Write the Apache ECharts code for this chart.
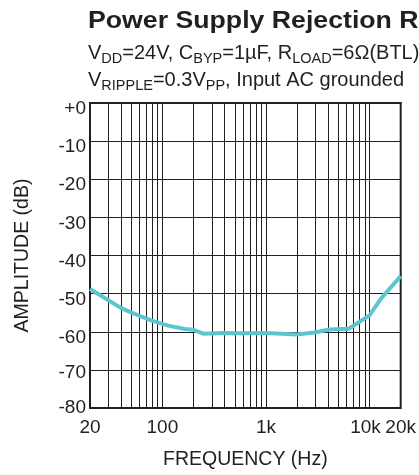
<!DOCTYPE html>
<html>
<head>
<meta charset="utf-8">
<script src="https://cdn.jsdelivr.net/npm/echarts@6/dist/echarts.min.js"></script>
<style>html,body{margin:0;padding:0;background:#fff}#c{width:419px;height:475px}</style>
</head>
<body>
<div id="c"></div>
<script>
// Data
var freqHz = [20, 28, 40, 54, 79, 114, 165, 200, 247, 386, 560, 1000, 1970, 2950, 4100, 6300, 10000, 13000, 20000];
var psrrDb = [-48.8, -51.2, -53.8, -55.3, -57.1, -58.4, -59.3, -59.5, -60.5, -60.3, -60.4, -60.3, -60.7, -60.2, -59.4, -59.2, -55.7, -51.2, -45.4];
var xTickValues = [20, 100, 1000, 10000, 20000];
var xTickLabels = ['20', '100', '1k', '10k', '20k'];
var yTickValues = [0, -10, -20, -30, -40, -50, -60, -70, -80];
var yTickLabels = ['+0', '-10', '-20', '-30', '-40', '-50', '-60', '-70', '-80'];
var minorGridFreqs = [30, 40, 50, 60, 70, 80, 90, 200, 300, 400, 500, 600, 700, 800, 900,
  2000, 3000, 4000, 5000, 6000, 7000, 8000, 9000];

var INK = '#231f20';
var FONT = '"Liberation Sans", Arial, Helvetica, sans-serif';

var chart = echarts.init(document.getElementById('c'), null, {renderer: 'canvas'});

function nearestIndex(v, vals) {
  var best = 0, bd = Infinity;
  for (var i = 0; i < vals.length; i++) {
    var d = Math.abs(Math.log(Math.abs(v) + 1e-9) - Math.log(Math.abs(vals[i]) + 1e-9));
    if (d < bd) { bd = d; best = i; }
  }
  return best;
}

var pts = freqHz.map(function (f, i) { return [f, psrrDb[i]]; });

var subRich = {
  m: {fontSize: 20, fontFamily: FONT, color: INK},
  s: {fontSize: 14.5, fontFamily: FONT, color: INK, padding: [10, 0, 0, 0]}
};

chart.setOption({
  animation: false,
  backgroundColor: '#fff',
  graphic: [
    {
      type: 'text', left: 88, top: 10.5, scaleX: 1.16, scaleY: 1,
      style: {text: 'Power Supply Rejection Ratio', font: 'bold 23px ' + FONT, fill: INK}
    },
    {
      type: 'text', left: 88, top: 43.5,
      style: {
        text: '{m|V}{s|DD}{m|=24V, C}{s|BYP}{m|=1µF, R}{s|LOAD}{m|=6Ω(BTL)}',
        fill: INK, rich: subRich
      }
    },
    {
      type: 'text', left: 88, top: 70.5,
      style: {
        text: '{m|V}{s|RIPPLE}{m|=0.3V}{s|PP}{m|, Input AC grounded}',
        fill: INK, rich: subRich
      }
    }
  ],
  grid: {
    left: 90, right: 18, top: 103, bottom: 62,
    show: true, borderColor: INK, borderWidth: 2, backgroundColor: 'transparent'
  },
  xAxis: {
    type: 'log', logBase: 10, min: 20, max: 20000,
    name: 'FREQUENCY (Hz)', nameLocation: 'middle', nameGap: 42,
    nameTextStyle: {fontSize: 19.5, fontFamily: FONT, color: INK},
    axisLine: {show: true, lineStyle: {color: INK, width: 2}},
    axisTick: {show: false},
    axisLabel: {
      color: INK, margin: 10,
      showMinLabel: true, showMaxLabel: true,
      formatter: function (v) {
        var i = nearestIndex(v, xTickValues);
        var k = xTickLabels[i] === '10k' ? 'b' : 'a';
        return '{' + k + '|' + xTickLabels[i] + '}';
      },
      rich: {
        a: {fontSize: 19, fontFamily: FONT, color: INK},
        b: {fontSize: 19, fontFamily: FONT, color: INK, padding: [0, 8, 0, 0]}
      }
    },
    splitLine: {show: true, lineStyle: {color: INK, width: 1}}
  },
  yAxis: {
    type: 'value', min: -80, max: 0, interval: 10,
    name: 'AMPLITUDE (dB)', nameLocation: 'middle', nameGap: 57, nameRotate: 90,
    nameTextStyle: {fontSize: 19.5, fontFamily: FONT, color: INK},
    axisLine: {show: true, lineStyle: {color: INK, width: 2}},
    axisTick: {show: false},
    axisLabel: {
      color: INK, margin: 4,
      formatter: function (v) {
        var r = Math.round(v);
        var i = yTickValues.indexOf(r);
        if (i < 0) return '';
        var k = r === -80 ? 'c' : (r === -70 ? 'b' : 'a');
        return '{' + k + '|' + yTickLabels[i] + '}';
      },
      rich: {
        a: {fontSize: 19, fontFamily: FONT, color: INK, padding: [12, 0, 0, 0]},
        b: {fontSize: 19, fontFamily: FONT, color: INK, padding: [6, 0, 0, 0]},
        c: {fontSize: 19, fontFamily: FONT, color: INK, padding: [0, 0, 0, 0]}
      }
    },
    splitLine: {show: true, lineStyle: {color: INK, width: 1}}
  },
  series: [
    {
      type: 'line', data: [], z: 1, silent: true,
      markLine: {
        silent: true, symbol: ['none', 'none'], label: {show: false},
        lineStyle: {color: INK, width: 1, type: 'solid'},
        emphasis: {disabled: true},
        data: minorGridFreqs.map(function (f) { return {xAxis: f}; })
      }
    },
    {
      type: 'line', data: pts, z: 5, showSymbol: false, smooth: false,
      lineStyle: {color: '#5ec5cf', width: 4},
      itemStyle: {color: '#5ec5cf'}
    }
  ]
});
</script>
</body>
</html>
